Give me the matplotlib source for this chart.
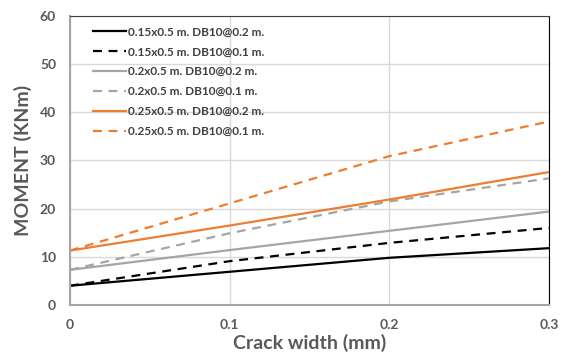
import matplotlib.pyplot as plt

# Crack width (mm) and moment (KNm)
crack_width = [0.0, 0.1, 0.2, 0.3]

m_015_02 = [4.0, 6.9, 9.8, 11.8]
m_015_01 = [4.0, 9.1, 12.9, 16.0]
m_020_02 = [7.3, 11.4, 15.4, 19.4]
m_020_01 = [7.3, 14.9, 21.5, 26.3]
m_025_02 = [11.3, 16.5, 21.9, 27.6]
m_025_01 = [11.3, 21.1, 30.9, 38.1]

labels = ['0.15x0.5 m. DB10@0.2 m.', '0.15x0.5 m. DB10@0.1 m.',
          '0.2x0.5 m. DB10@0.2 m.', '0.2x0.5 m. DB10@0.1 m.',
          '0.25x0.5 m. DB10@0.2 m.', '0.25x0.5 m. DB10@0.1 m.']

plt.rcParams['font.family'] = ['Lato', 'DejaVu Sans']

fig = plt.figure(figsize=(5.65, 3.53), dpi=100)
ax = fig.add_axes([70 / 565, 48 / 353, 479 / 565, 289 / 353])

series = [m_015_02, m_015_01, m_020_02, m_020_01, m_025_02, m_025_01]
colors = ['black', 'black', '#a5a5a5', '#a5a5a5', '#ed7d31', '#ed7d31']
styles = ['-', (0, (4, 3)), '-', (0, (4, 3)), '-', (0, (4, 3))]

for ys, c, ls, lab in zip(series, colors, styles, labels):
    ax.plot(crack_width, ys, color=c, linestyle=ls, linewidth=1.6, label=lab)

ax.set_xlim(0, 0.3)
ax.set_ylim(0, 60)
ax.set_xticks([0, 0.1, 0.2, 0.3])
ax.set_xticklabels(['0', '0.1', '0.2', '0.3'])
ax.set_yticks(range(0, 61, 10))
ax.grid(True, color='#d9d9d9', linewidth=1)
ax.set_axisbelow(True)

for lab in ax.get_xticklabels() + ax.get_yticklabels():
    lab.set_fontweight('bold')
    lab.set_color('#595959')
    lab.set_fontsize(10)
ax.tick_params(axis='both', length=0)
ax.tick_params(axis='x', pad=10)
ax.tick_params(axis='y', pad=10)

ax.spines['left'].set_color('#a6a6a6')
ax.spines['left'].set_linewidth(1.5)
ax.spines['bottom'].set_color('#a6a6a6')
ax.spines['bottom'].set_linewidth(1.5)
ax.spines['top'].set_color('#404040')
ax.spines['right'].set_color('black')

ax.set_xlabel('Crack width (mm)', fontsize=14, fontweight='bold', color='#595959', labelpad=2)
ax.set_ylabel('MOMENT (KNm)', fontsize=14, fontweight='bold', color='#595959', labelpad=6)

leg = ax.legend(loc='upper left', bbox_to_anchor=(0.025, 1.0), frameon=False,
                fontsize=8.5, handlelength=2.8, handletextpad=0.2, labelspacing=0.75)
for t in leg.get_texts():
    t.set_color('#404040')
    t.set_fontweight('bold')

plt.savefig('out.png', dpi=100)
plt.close()
